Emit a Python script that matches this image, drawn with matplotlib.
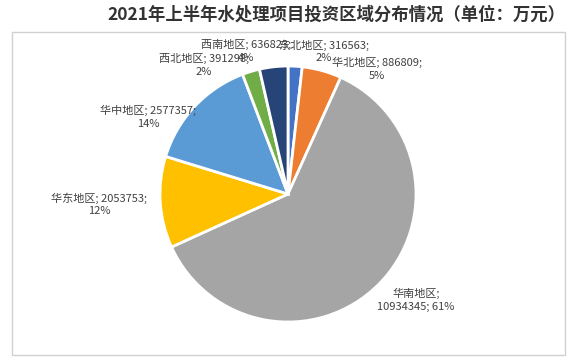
import matplotlib.pyplot as plt
from matplotlib.patches import Rectangle

plt.rcParams['font.family'] = ['Noto Sans CJK SC', 'DejaVu Sans']

regions = ['东北地区', '华北地区', '华南地区', '华东地区', '华中地区', '西北地区', '西南地区']
invest = [316563, 886809, 10934345, 2053753, 2577357, 391298, 636823]
colors = ['#4472C4', '#ED7D31', '#A5A5A5', '#FFC000', '#5B9BD5', '#70AD47', '#264478']

# label anchor positions in pixels (x, y from top)
label_pos = [(324, 51), (377, 69), (416, 300), (99, 204), (148, 117), (204, 65), (246, 51)]

W, H = 581, 364
fig = plt.figure(figsize=(W / 100, H / 100), dpi=100)
ax = fig.add_axes([0, 0, 1, 1])

# chart frame
ax.add_patch(Rectangle((12, H - 355), 553, 323, fill=False, edgecolor='#D0D0D0', lw=1))

ax.pie(invest, colors=colors, startangle=90, counterclock=False,
       center=(288, H - 194), radius=128,
       wedgeprops=dict(edgecolor='white', linewidth=2), frame=True)
ax.set_xlim(0, W)
ax.set_ylim(0, H)
ax.set_aspect('auto')
ax.axis('off')

total = sum(invest)
for name, v, (x, y) in zip(regions, invest, label_pos):
    pct = round(v / total * 100)
    if name == '华南地区':
        txt = f'{name};\n{v}; {pct}%'
    else:
        txt = f'{name}; {v};\n{pct}%'
    ax.text(x, H - y, txt, ha='center', va='center', fontsize=8,
            color='#404040', linespacing=1.3)

ax.text(565, H - 15, '2021年上半年水处理项目投资区域分布情况（单位：万元）',
        ha='right', va='center', fontsize=12.5, fontweight='bold', color='#333333')

plt.savefig('out.png', dpi=100)
